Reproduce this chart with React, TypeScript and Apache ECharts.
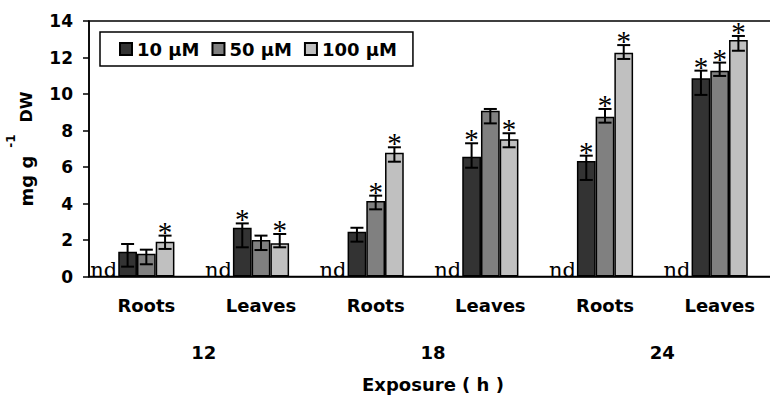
import React, { useEffect, useRef } from "react";
import * as echarts from "echarts";

const tissues = ["Roots", "Leaves", "Roots", "Leaves", "Roots", "Leaves"];
const exposureHours = ["12", "18", "24"];
const seriesNames = ["10 \u00b5M", "50 \u00b5M", "100 \u00b5M"];
const controlLabel = "nd";

const mean10 = [1.36, 2.67, 2.45, 6.56, 6.33, 10.86];
const mean50 = [1.25, 2.0, 4.14, 9.08, 8.76, 11.28];
const mean100 = [1.91, 1.82, 6.78, 7.52, 12.26, 12.96];

const low10 = [0.54, 1.6, 1.91, 5.96, 5.29, 9.95];
const high10 = [1.78, 2.91, 2.67, 7.3, 6.62, 11.28];
const low50 = [0.67, 1.45, 3.68, 8.39, 8.43, 10.99];
const high50 = [1.47, 2.24, 4.43, 9.18, 9.18, 11.72];
const low100 = [1.51, 1.6, 6.29, 7.08, 11.92, 12.37];
const high100 = [2.24, 2.33, 7.08, 7.85, 12.68, 13.18];

const sig10 = [0, 1, 0, 1, 1, 1];
const sig50 = [0, 0, 1, 0, 1, 1];
const sig100 = [1, 1, 1, 1, 1, 1];

const yTicks = [0, 2, 4, 6, 8, 10, 12, 14];

const colors = ["#333333", "#808080", "#c0c0c0"];
const GAP = 0.51;

export default function App() {
  const ref = useRef<HTMLDivElement>(null);
  useEffect(() => {
    document.body.style.margin = "0";
    const chart = echarts.init(ref.current!, undefined, { renderer: "svg" });
    const means = [mean10, mean50, mean100];
    const lows = [low10, low50, low100];
    const highs = [high10, high50, high100];
    const sigs = [sig10, sig50, sig100];
    const errData: number[][] = [];
    for (let s = 0; s < 3; s++) {
      for (let c = 0; c < tissues.length; c++) {
        errData.push([c, s, lows[s][c], highs[s][c], sigs[s][c]]);
      }
    }
    const font = "DejaVu Sans";
    const renderItem = (params: any, api: any) => {
      const cat = api.value(0);
      const si = api.value(1);
      const lo = api.value(2);
      const hi = api.value(3);
      const star = api.value(4);
      const bandW = api.size([1, 0])[0];
      const groupW = bandW * (1 - GAP);
      const barW = groupW / 3;
      const base = api.coord([cat, 0]);
      const x = base[0] - groupW / 2 + barW * (si + 0.5);
      const yLo = api.coord([cat, lo])[1];
      const yHi = api.coord([cat, hi])[1];
      const cap = 6.5;
      const st = { stroke: "#000", lineWidth: 2 };
      const children: any[] = [
        { type: "line", shape: { x1: x, y1: yLo, x2: x, y2: yHi }, style: st },
        { type: "line", shape: { x1: x - cap, y1: yLo, x2: x + cap, y2: yLo }, style: st },
        { type: "line", shape: { x1: x - cap, y1: yHi, x2: x + cap, y2: yHi }, style: st },
      ];
      if (star) {
        children.push({
          type: "text",
          style: {
            text: "*",
            x: x,
            y: yHi - 4,
            align: "center",
            verticalAlign: "middle",
            fontFamily: "Liberation Serif",
            fontSize: 29,
            fill: "#000",
          },
        });
      }
      if (si === 0) {
        children.push({
          type: "text",
          style: {
            text: controlLabel,
            x: x - barW / 2 - 1,
            y: base[1] + 4,
            align: "right",
            verticalAlign: "bottom",
            fontFamily: "DejaVu Serif",
            fontSize: 21,
            fill: "#000",
          },
        });
      }
      return { type: "group", children };
    };

    chart.setOption({
      animation: false,
      backgroundColor: "#fff",
      textStyle: { fontFamily: font },
      grid: {
        left: 89,
        top: 21,
        width: 688,
        height: 255.5,
        show: true,
        borderColor: "#000",
        borderWidth: 1.5,
        backgroundColor: "transparent",
      },
      legend: {
        left: 100,
        top: 32,
        orient: "horizontal",
        data: seriesNames,
        itemWidth: 12,
        itemHeight: 12,
        itemGap: 12,
        padding: [8, 16, 8, 19],
        borderColor: "#000",
        borderWidth: 1.5,
        backgroundColor: "#fff",
        icon: "rect",
        textStyle: { fontFamily: font, fontWeight: "bold", fontSize: 18, color: "#000" },
      },
      xAxis: [
        {
          type: "category",
          data: tissues,
          axisLine: { lineStyle: { color: "#000", width: 1.5 } },
          axisTick: { show: false },
          axisLabel: {
            margin: 20,
            color: "#000",
            fontFamily: font,
            fontWeight: "bold",
            fontSize: 18,
          },
        },
        {
          type: "category",
          data: exposureHours,
          position: "bottom",
          axisLine: { show: false },
          axisTick: { show: false },
          axisLabel: {
            margin: 67,
            color: "#000",
            fontFamily: font,
            fontWeight: "bold",
            fontSize: 18,
          },
          name: "Exposure ( h )",
          nameLocation: "middle",
          nameGap: 99,
          nameTextStyle: { color: "#000", fontFamily: font, fontWeight: "bold", fontSize: 18 },
        },
      ],
      yAxis: {
        type: "value",
        min: yTicks[0],
        max: yTicks[yTicks.length - 1],
        interval: 2,
        axisLine: { show: true, lineStyle: { color: "#000", width: 1.5 } },
        axisTick: { show: true, length: 6, lineStyle: { color: "#000", width: 1.5 } },
        splitLine: { show: false },
        axisLabel: {
          margin: 16,
          color: "#000",
          fontFamily: font,
          fontWeight: "bold",
          fontSize: 17,
        },
      },
      graphic: [
        {
          type: "text",
          x: 26,
          y: 181,
          rotation: Math.PI / 2,
          style: { text: "mg g", align: "center", verticalAlign: "middle", fontFamily: font, fontWeight: "bold", fontSize: 18, fill: "#000" },
        },
        {
          type: "text",
          x: 11,
          y: 141,
          rotation: Math.PI / 2,
          style: { text: "-1", align: "center", verticalAlign: "middle", fontFamily: font, fontWeight: "bold", fontSize: 12, fill: "#000" },
        },
        {
          type: "text",
          x: 26,
          y: 107,
          rotation: Math.PI / 2,
          style: { text: "DW", align: "center", verticalAlign: "middle", fontFamily: font, fontWeight: "bold", fontSize: 16, fill: "#000" },
        },
      ],
      series: [
        ...means.map((d, i) => ({
          name: seriesNames[i],
          type: "bar",
          data: d,
          barGap: "0%",
          barCategoryGap: `${GAP * 100}%`,
          itemStyle: { color: colors[i], borderColor: "#000", borderWidth: 1.5 },
        })),
        {
          type: "custom",
          renderItem,
          data: errData,
          encode: { x: 0, y: 3 },
          z: 5,
          silent: true,
        },
      ],
    });
    return () => chart.dispose();
  }, []);
  return (
    <div style={{ width: 770, height: 403, overflow: "hidden" }}>
      <div ref={ref} style={{ width: 780, height: 403 }} />
    </div>
  );
}
